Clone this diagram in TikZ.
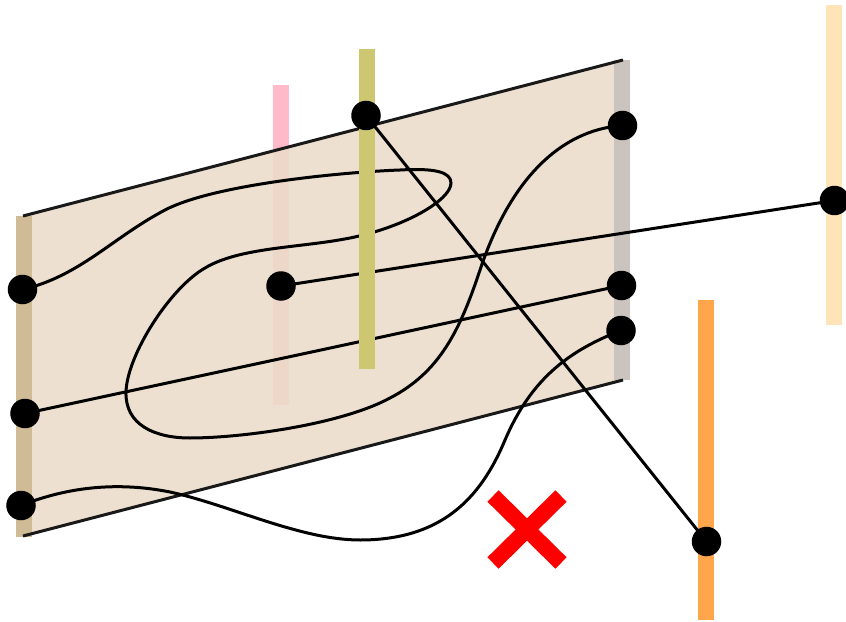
\documentclass[tikz,border=0pt]{standalone}
\definecolor{planefill}{HTML}{EBDCC9}
\definecolor{barpink}{HTML}{FFB9C8}
\definecolor{barolive}{HTML}{CDC771}
\definecolor{bartan}{HTML}{CFBB95}
\definecolor{bargrey}{HTML}{CBC3BD}
\definecolor{barorange}{HTML}{FFA64D}
\definecolor{barcream}{HTML}{FFE4B8}
\tikzset{
  dot/.style={circle,fill=black,draw=none,minimum size=29.5bp,inner sep=0pt},
  wire/.style={draw=black,line width=3bp},
  edgeline/.style={draw=black!90,line width=3bp}
}
\begin{document}
\begin{tikzpicture}[x=1bp,y=-1bp]
\useasboundingbox (0,0) rectangle (846,622);
% coordinates
\coordinate (tl) at (23,216);
\coordinate (tr) at (623,60);
\coordinate (br) at (623,380);
\coordinate (bl) at (23,536);
% bar beneath the plane
\fill[barpink] (273,85) rectangle (289,405);
% plane
\fill[planefill,opacity=.88] (tl) -- (tr) -- (br) -- (bl) -- cycle;
% outer bars
\fill[bartan] (16,216) rectangle (32,537);
\fill[bargrey] (614,60) rectangle (630,380);
\fill[barorange] (698,300) rectangle (714,620);
\fill[barcream] (826,5) rectangle (842,325);
\draw[edgeline] (tl) -- (tr);
\draw[edgeline] (bl) -- (br);
% dot positions
\coordinate (la) at (22.5,289.5);
\coordinate (lb) at (25,413.5);
\coordinate (lc) at (21,505.5);
\coordinate (pk) at (281,286);
\coordinate (ol) at (366,115.5);
\coordinate (ra) at (622.5,125.5);
\coordinate (rb) at (621.5,285.5);
\coordinate (rc) at (621,330.5);
\coordinate (cr) at (834.5,200.5);
\coordinate (or) at (706.5,541.5);
% wires behind the olive bar
\draw[wire] (la) .. controls (80,276) and (112,238) .. (165,210)
  .. controls (215,184) and (345,172) .. (400,170)
  .. controls (435,168) and (451,172) .. (451,183)
  .. controls (451,200) and (405,227) .. (350,238)
  .. controls (300,248) and (240,247) .. (205,268)
  .. controls (170,288) and (127,355) .. (126,392)
  .. controls (125,425) and (155,438) .. (190,438)
  .. controls (240,438) and (340,425) .. (390,398)
  .. controls (440,372) and (460,330) .. (480,270)
  .. controls (510,180) and (560,130) .. (ra);
\draw[wire] (lc) .. controls (60,490) and (110,480) .. (170,492)
  .. controls (230,505) and (300,540) .. (360,540)
  .. controls (440,540) and (480,500) .. (505,440)
  .. controls (530,382) and (565,352) .. (rc);
\draw[wire] (pk) -- (cr);
\draw[wire] (lb) -- (rb);
\fill[barolive] (359,49) rectangle (375,369);
\draw[wire] (ol) -- (or);
% dots
\node[dot] (nla) at (la) {};
\node[dot] (nlb) at (lb) {};
\node[dot] (nlc) at (lc) {};
\node[dot] (npk) at (pk) {};
\node[dot] (nol) at (ol) {};
\node[dot] (nra) at (ra) {};
\node[dot] (nrb) at (rb) {};
\node[dot] (nrc) at (rc) {};
\node[dot] (ncr) at (cr) {};
\node[dot] (nor) at (or) {};
% red cross
\draw[red,line width=16bp] (493,496) -- (561,563);
\draw[red,line width=16bp] (561,496) -- (493,563);
\end{tikzpicture}
\end{document}
